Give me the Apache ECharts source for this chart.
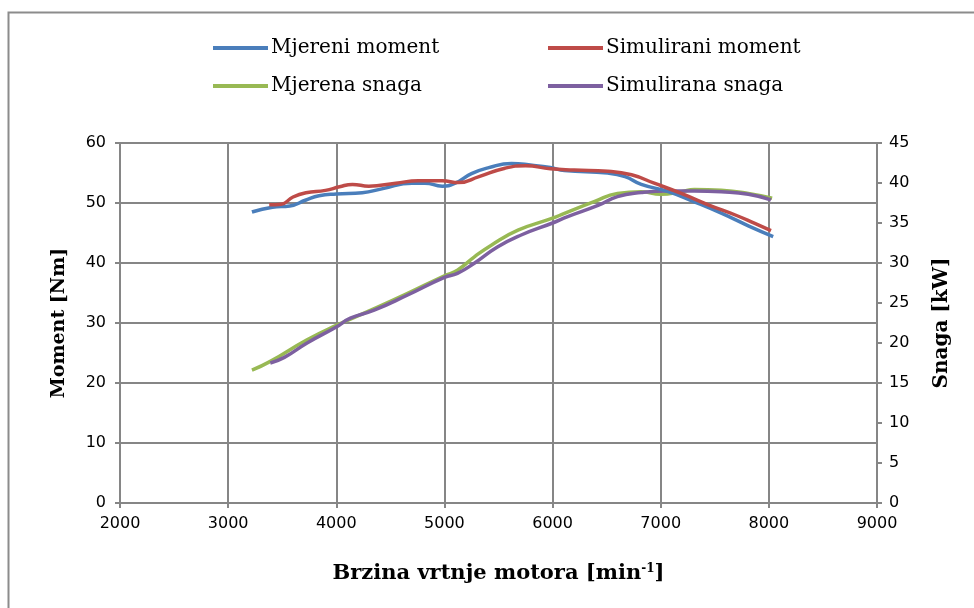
<!DOCTYPE html>
<html>
<head>
<meta charset="utf-8">
<script src="https://cdn.jsdelivr.net/npm/echarts@6/dist/echarts.min.js"></script>
<style>
html,body{margin:0;padding:0;background:#fff;}
#main{width:974px;height:608px;}
</style>
</head>
<body>
<div id="main"></div>
<script>
// Mjereni moment [Nm]
var rpmMjMoment = [3220, 3410, 3570, 3720, 3840, 4000, 4240, 4430, 4700, 4820, 4980, 5100, 5250, 5410, 5620, 5810, 5980, 6110, 6510, 6670, 6820, 7070, 7310, 7560, 7810, 8040];
var mjMoment = [48.5, 49.3, 49.5, 50.5, 51.2, 51.5, 51.7, 52.4, 53.3, 53.3, 52.8, 53.3, 54.9, 55.9, 56.6, 56.3, 55.9, 55.4, 55.0, 54.4, 53.1, 51.9, 50.2, 48.3, 46.2, 44.4];
// Simulirani moment [Nm]
var rpmSimMoment = [3380, 3490, 3600, 3720, 3900, 4030, 4150, 4300, 4550, 4760, 4980, 5130, 5320, 5560, 5750, 5980, 6200, 6510, 6730, 6940, 7190, 7440, 7690, 7870, 8020];
var simMoment = [49.7, 49.8, 51.0, 51.7, 52.1, 52.7, 53.1, 52.8, 53.3, 53.7, 53.7, 53.4, 54.4, 55.8, 56.2, 55.7, 55.5, 55.3, 54.7, 53.3, 51.6, 49.7, 48.0, 46.6, 45.4];
// Mjerena snaga [kW]
var rpmMjSnaga = [3220, 3390, 3730, 4000, 4320, 4660, 5000, 5120, 5280, 5430, 5680, 6000, 6110, 6390, 6600, 6820, 7000, 7190, 7310, 7560, 7810, 8030];
var mjSnaga = [16.6, 17.7, 20.4, 22.2, 24.1, 26.2, 28.4, 29.1, 30.8, 32.2, 34.1, 35.6, 36.2, 37.7, 38.7, 38.9, 38.6, 38.9, 39.2, 39.1, 38.7, 38.1];
// Simulirana snaga [kW]
var rpmSimSnaga = [3390, 3520, 3730, 4000, 4130, 4350, 4660, 5000, 5120, 5280, 5490, 5710, 6000, 6140, 6420, 6600, 6820, 7070, 7310, 7560, 7810, 8020];
var simSnaga = [17.5, 18.2, 20.0, 22.0, 23.1, 24.1, 26.0, 28.2, 28.7, 30.0, 32.0, 33.5, 35.0, 35.8, 37.2, 38.3, 38.8, 39.0, 39.0, 38.9, 38.6, 37.9];

var seriesNames = ['Mjereni moment', 'Simulirani moment', 'Mjerena snaga', 'Simulirana snaga'];
var colors = ['#4a7ebb', '#be4b48', '#98b954', '#7d60a0'];

function pairs(xs, ys) {
    return xs.map(function (x, i) { return [x, ys[i]]; });
}

var gridColor = '#868686';
var labelFont = 'DejaVu Sans';
var serif = 'DejaVu Serif';

function makeSeries(i, xs, ys, axisIdx) {
    return {
        name: seriesNames[i],
        type: 'line',
        smooth: true,
        symbol: 'none',
        yAxisIndex: axisIdx,
        data: pairs(xs, ys),
        lineStyle: { color: colors[i], width: 3.5 },
        itemStyle: { color: colors[i] }
    };
}

function makeLegend(i, left, top) {
    return {
        data: [seriesNames[i]],
        left: left,
        top: top,
        icon: 'rect',
        itemWidth: 55,
        itemHeight: 4,
        itemGap: 0,
        textStyle: { fontFamily: serif, fontSize: 20, color: '#000', padding: [0, 0, 0, -2] }
    };
}

var option = {
    animation: false,
    backgroundColor: '#fff',
    color: colors,
    graphic: [{
        type: 'rect',
        shape: { x: 8.5, y: 12.5, width: 1000, height: 1000 },
        style: { fill: 'none', stroke: '#8c8c8c', lineWidth: 2 }
    }],
    legend: [
        makeLegend(0, 208, 33),
        makeLegend(1, 543, 33),
        makeLegend(2, 208, 71),
        makeLegend(3, 543, 71)
    ],
    grid: { left: 120, right: 97, top: 143, bottom: 105 },
    xAxis: {
        type: 'value',
        min: 2000,
        max: 9000,
        interval: 1000,
        name: 'Brzina vrtnje motora [min{sup|-1}]',
        nameLocation: 'middle',
        nameGap: 60,
        nameTextStyle: {
            fontFamily: serif, fontSize: 21, fontWeight: 'bold', color: '#000',
            rich: { sup: { fontFamily: serif, fontSize: 12, fontWeight: 'bold', color: '#000', verticalAlign: 'top', padding: [0, 0, 8, 0] } }
        },
        axisLine: { lineStyle: { color: gridColor, width: 2 } },
        axisTick: { show: true, length: 5, lineStyle: { color: gridColor, width: 2 } },
        axisLabel: { fontFamily: labelFont, fontSize: 16, color: '#000', margin: 13, formatter: function (v) { return String(v); } },
        splitLine: { show: true, lineStyle: { color: gridColor, width: 2 } }
    },
    yAxis: [{
        type: 'value',
        min: 0,
        max: 60,
        interval: 10,
        name: 'Moment [Nm]',
        nameLocation: 'middle',
        nameGap: 51,
        nameTextStyle: { fontFamily: serif, fontSize: 19, fontWeight: 'bold', color: '#000' },
        axisLine: { show: true, lineStyle: { color: gridColor, width: 2 } },
        axisTick: { show: true, length: 5, lineStyle: { color: gridColor, width: 2 } },
        axisLabel: { fontFamily: labelFont, fontSize: 16, color: '#000', margin: 14 },
        splitLine: { show: true, lineStyle: { color: gridColor, width: 2 } }
    }, {
        type: 'value',
        min: 0,
        max: 45,
        interval: 5,
        position: 'right',
        name: 'Snaga [kW]',
        nameLocation: 'middle',
        nameGap: 55,
        nameRotate: 90,
        nameTextStyle: { fontFamily: serif, fontSize: 20, fontWeight: 'bold', color: '#000' },
        axisLine: { show: true, lineStyle: { color: gridColor, width: 2 } },
        axisTick: { show: true, length: 5, lineStyle: { color: gridColor, width: 2 } },
        axisLabel: { fontFamily: labelFont, fontSize: 16, color: '#000', margin: 12 },
        splitLine: { show: false }
    }],
    series: [
        makeSeries(2, rpmMjSnaga, mjSnaga, 1),
        makeSeries(3, rpmSimSnaga, simSnaga, 1),
        makeSeries(0, rpmMjMoment, mjMoment, 0),
        makeSeries(1, rpmSimMoment, simMoment, 0)
    ]
};

var chart = echarts.init(document.getElementById('main'));
chart.setOption(option);
</script>
</body>
</html>
